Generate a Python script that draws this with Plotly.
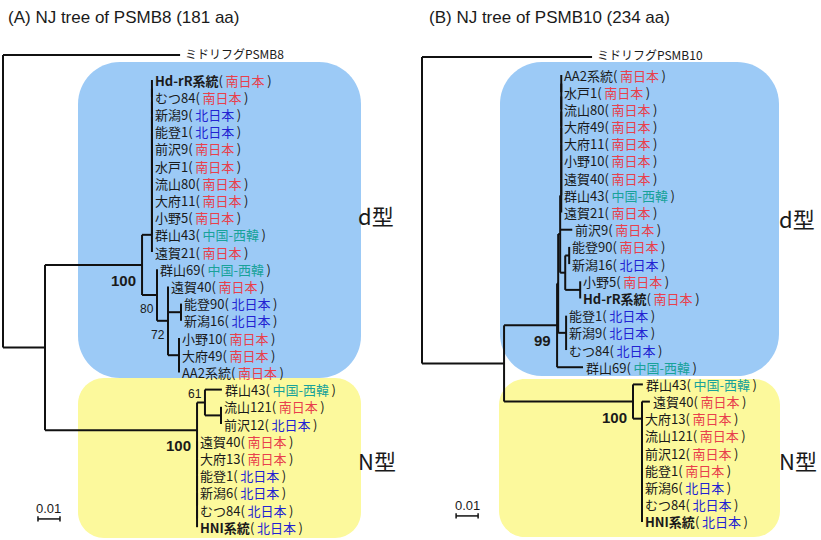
import plotly.graph_objects as go

W, H = 821, 540

# ------------------------------------------------------------------ data
A_TITLE = "(A) NJ tree of PSMB8 (181 aa)"
B_TITLE = "(B) NJ tree of PSMB10 (234 aa)"
A_OUTGROUP = "ミドリフグPSMB8"
B_OUTGROUP = "ミドリフグPSMB10"

A_d_names = ["Hd-rR系統", "むつ84", "新潟9", "能登1", "前沢9", "水戸1", "流山80", "大府11", "小野5",
             "群山43", "遠賀21", "群山69", "遠賀40", "能登90", "新潟16", "小野10", "大府49", "AA2系統"]
A_d_regions = ["南日本", "南日本", "北日本", "北日本", "南日本", "南日本", "南日本", "南日本", "南日本",
               "中国-西韓", "南日本", "中国-西韓", "南日本", "北日本", "北日本", "南日本", "南日本", "南日本"]
A_N_names = ["群山43", "流山121", "前沢12", "遠賀40", "大府13", "能登1", "新潟6", "むつ84", "HNI系統"]
A_N_regions = ["中国-西韓", "南日本", "北日本", "南日本", "南日本", "北日本", "北日本", "北日本", "北日本"]

B_d_names = ["AA2系統", "水戸1", "流山80", "大府49", "大府11", "小野10", "遠賀40", "群山43", "遠賀21",
             "前沢9", "能登90", "新潟16", "小野5", "Hd-rR系統", "能登1", "新潟9", "むつ84", "群山69"]
B_d_regions = ["南日本", "南日本", "南日本", "南日本", "南日本", "南日本", "南日本", "中国-西韓", "南日本",
               "南日本", "南日本", "北日本", "南日本", "南日本", "北日本", "北日本", "北日本", "中国-西韓"]
B_N_names = ["群山43", "遠賀40", "大府13", "流山121", "前沢12", "能登1", "新潟6", "むつ84", "HNI系統"]
B_N_regions = ["中国-西韓", "南日本", "南日本", "南日本", "南日本", "南日本", "北日本", "北日本", "北日本"]

BOLD_NAMES = ["Hd-rR系統", "HNI系統"]

# branch lengths (substitutions / site)
A_len = {"outgroup": 0.0805, "ingroup": 0.0191, "d": 0.0441, "d_upper": 0.0045,
         "n80": 0.0068, "n72": 0.0050, "noto90": 0.0059, "ono10": 0.0050,
         "N": 0.0691, "n61": 0.0036, "gunzan43": 0.0077, "nagareyama": 0.0073}
B_len = {"outgroup": 0.0773, "ingroup": 0.0373, "d": 0.0241, "x": 0.0005, "x2": 0.0009,
         "d_upper": 0.0005, "maezawa9": 0.0055, "w": 0.0023, "noto90": 0.0018,
         "ono5": 0.0068, "v": 0.0036, "gunzan69": 0.0118,
         "N": 0.0586, "gunzan43": 0.0045, "m": 0.0041, "onga40": 0.0036}
A_bootstrap = {"d": 100, "n80": 80, "n72": 72, "N": 100, "n61": 61}
B_bootstrap = {"d": 99, "N": 100}

SCALE_LEN = 0.01
SCALE_LABEL = "0.01"
TYPE_LABELS = ["d型", "N型"]

REGION_COLORS = {"南日本": "#e8404c", "北日本": "#2323d2", "中国-西韓": "#19a29a"}

# ------------------------------------------------------------------ tree helpers
def leaf(name, region, length=0.0, y=None):
    d = {"len": length, "name": name, "region": region}
    if y is not None:
        d["y"] = y
    return d


def node(length, children, bs=None, bs_pos="below"):
    return {"len": length, "children": children, "bs": bs, "bs_pos": bs_pos}


def ladder(leaves, length):
    cur = leaves[0]
    for lf in leaves[1:]:
        cur = node(0.0, [cur, lf])
    cur["len"] = length
    return cur


def rladder(leaves, length):
    cur = leaves[-1]
    for lf in reversed(leaves[:-1]):
        cur = node(0.0, [lf, cur])
    cur["len"] = length
    return cur


def layout(t, xp, counter, segx, segy, leaves, bss):
    x = xp + t["len"]
    if "children" not in t:
        if "y" in t:
            y = t["y"]
        else:
            y = counter[0]
            counter[0] += 1
        leaves.append((x, y, t))
        return x, y
    pts = [layout(c, x, counter, segx, segy, leaves, bss) for c in t["children"]]
    y = (pts[0][1] + pts[-1][1]) / 2.0
    segx += [x, x, None]
    segy += [pts[0][1], pts[-1][1], None]
    for cx, cy in pts:
        if cx > x:
            segx += [x, cx, None]
            segy += [cy, cy, None]
    if t.get("bs") is not None:
        bss.append((x, y, t["bs"], t["bs_pos"]))
    return x, y


# ------------------------------------------------------------------ build trees
Ad = [leaf(n, r) for n, r in zip(A_d_names, A_d_regions)]
AN = [leaf(n, r) for n, r in zip(A_N_names, A_N_regions)]
AN[0]["len"] = A_len["gunzan43"]
tree_A = node(0.0, [
    leaf(A_OUTGROUP, None, A_len["outgroup"], y=-1.45),
    node(A_len["ingroup"], [
        node(A_len["d"], [
            ladder(Ad[0:11], A_len["d_upper"]),
            node(A_len["n80"], [
                Ad[11],
                node(A_len["n72"], [
                    Ad[12],
                    node(A_len["noto90"], Ad[13:15]),
                    node(A_len["ono10"], Ad[15:18]),
                ], bs=A_bootstrap["n72"]),
            ], bs=A_bootstrap["n80"]),
        ], bs=A_bootstrap["d"]),
        node(A_len["N"], [
            node(A_len["n61"], [AN[0], node(A_len["nagareyama"], AN[1:3])],
                 bs=A_bootstrap["n61"], bs_pos="above"),
            rladder(AN[3:9], 0.0),
        ], bs=A_bootstrap["N"]),
    ]),
])

Bd = [leaf(n, r) for n, r in zip(B_d_names, B_d_regions)]
BN = [leaf(n, r) for n, r in zip(B_N_names, B_N_regions)]
Bd[9]["len"] = B_len["maezawa9"]
Bd[17]["len"] = B_len["gunzan69"]
BN[0]["len"] = B_len["gunzan43"]
BN[1]["len"] = B_len["onga40"]
tree_B = node(0.0, [
    leaf(B_OUTGROUP, None, B_len["outgroup"], y=-1.05),
    node(B_len["ingroup"], [
        node(B_len["d"], [
            node(B_len["x"], [
                node(B_len["x2"], [
                    ladder(Bd[0:9], B_len["d_upper"]),
                    Bd[9],
                    node(B_len["w"], [
                        node(B_len["noto90"], Bd[10:12]),
                        node(B_len["ono5"], Bd[12:14]),
                    ]),
                ]),
                node(B_len["v"], Bd[14:17]),
            ]),
            Bd[17],
        ], bs=B_bootstrap["d"]),
        node(B_len["N"], [
            BN[0],
            rladder(BN[1:9], B_len["m"]),
        ], bs=B_bootstrap["N"]),
    ]),
])

# ------------------------------------------------------------------ figure
CJK = "Noto Sans CJK JP"
LAT = "Liberation Sans, Arial, sans-serif"
fig = go.Figure()
annotations = []
shapes = []


def px2paper(x, y):
    return x / W, 1 - y / H


def rrect(x0, y0, x1, y1, r, color):
    k = 0.5523 * r

    def P(x, y):
        a, b = px2paper(x, y)
        return f"{a:.5f},{b:.5f}"
    path = (f"M {P(x0 + r, y0)} L {P(x1 - r, y0)} "
            f"C {P(x1 - r + k, y0)} {P(x1, y0 + r - k)} {P(x1, y0 + r)} "
            f"L {P(x1, y1 - r)} C {P(x1, y1 - r + k)} {P(x1 - r + k, y1)} {P(x1 - r, y1)} "
            f"L {P(x0 + r, y1)} C {P(x0 + r - k, y1)} {P(x0, y1 - r + k)} {P(x0, y1 - r)} "
            f"L {P(x0, y0 + r)} C {P(x0, y0 + r - k)} {P(x0 + r - k, y0)} {P(x0 + r, y0)} Z")
    return dict(type="path", path=path, xref="paper", yref="paper", fillcolor=color,
                line=dict(width=0), layer="below")


BLUE = "#9ccaf6"
YELLOW = "#fcf99c"
shapes += [rrect(78, 62, 361, 378, 42, BLUE), rrect(78, 378, 361, 538, 26, YELLOW),
           rrect(500, 62, 779, 376, 42, BLUE), rrect(499, 379, 780, 537, 26, YELLOW)]


def label_html(t):
    name = t["name"]
    if name in BOLD_NAMES:
        name = f"<b>{name}</b>"
    if t["region"] is None:
        return name
    c = REGION_COLORS[t["region"]]
    return f"{name}(\u2009<span style='color:{c}'>{t['region']}</span>\u2009)"


def draw_tree(tree, xa, ya):
    segx, segy, leaves, bss = [], [], [], []
    layout(tree, 0.0, [0], segx, segy, leaves, bss)
    fig.add_trace(go.Scatter(x=segx, y=segy, mode="lines", xaxis=xa, yaxis=ya,
                             line=dict(color="#111111", width=2), hoverinfo="skip",
                             showlegend=False))
    for lx, ly, t in leaves:
        out = t["region"] is None
        annotations.append(dict(
            x=lx, y=ly, xref=xa, yref=ya, text=label_html(t), showarrow=False,
            xanchor="left", yanchor="middle", xshift=3 if out else 1, yshift=2 if out else 0,
            font=dict(family=CJK, size=12 if out else 13, color="#1a1a1a")))
    for bx, by, val, pos in bss:
        big = val >= 99
        annotations.append(dict(
            x=bx, y=by, xref=xa, yref=ya, text=f"<b>{val}</b>" if big else str(val),
            showarrow=False, xanchor="right",
            yanchor="top" if pos == "below" else "bottom",
            xshift=-4 if big else -1, yshift=-5 if pos == "below" else 0,
            font=dict(family=LAT, size=15 if big else 12, color="#1a1a1a")))


draw_tree(tree_A, "x", "y")
draw_tree(tree_B, "x2", "y2")


def scale_bar(xa, ya, sx, sy):
    fig.add_trace(go.Scatter(
        x=[sx, sx + SCALE_LEN, None, sx, sx, None, sx + SCALE_LEN, sx + SCALE_LEN],
        y=[sy, sy, None, sy - 0.15, sy + 0.15, None, sy - 0.15, sy + 0.15],
        mode="lines", xaxis=xa, yaxis=ya, line=dict(color="#111111", width=1.5),
        hoverinfo="skip", showlegend=False))
    annotations.append(dict(x=sx + SCALE_LEN / 2, y=sy, xref=xa, yref=ya, text=SCALE_LABEL,
                            showarrow=False, xanchor="center", yanchor="bottom", yshift=1,
                            font=dict(family=LAT, size=13, color="#1a1a1a")))


scale_bar("x", "y", 0.0159, 25.52)
scale_bar("x2", "y2", 0.0155, 25.65)


def paper_text(x, y, text, size, family, anchor="left"):
    px, py = px2paper(x, y)
    annotations.append(dict(x=px, y=py, xref="paper", yref="paper", text=text, showarrow=False,
                            xanchor=anchor, yanchor="middle",
                            font=dict(family=family, size=size, color="#1a1a1a")))


paper_text(6, 18, A_TITLE, 17, LAT)
paper_text(427, 18, B_TITLE, 17, LAT)
paper_text(356, 215, TYPE_LABELS[0], 22, CJK)
paper_text(356, 460, TYPE_LABELS[1], 22, CJK)
paper_text(777, 218, TYPE_LABELS[0], 22, CJK)
paper_text(777, 460, TYPE_LABELS[1], 22, CJK)

PXU = 2200.0   # pixels per distance unit
fig.update_layout(
    width=W, height=H, margin=dict(l=0, r=0, t=0, b=0),
    paper_bgcolor="white", plot_bgcolor="rgba(0,0,0,0)", showlegend=False,
    xaxis=dict(domain=[0, 410 / W], range=[-3 / PXU, 407 / PXU], visible=False, anchor="y"),
    yaxis=dict(domain=[0, 1], range=[(H - 80) / 17.2, -80 / 17.2], visible=False, anchor="x"),
    xaxis2=dict(domain=[410 / W, 1], range=[-12 / PXU, 399 / PXU], visible=False, anchor="y2"),
    yaxis2=dict(domain=[0, 1], range=[(H - 75) / 17.19, -75 / 17.19], visible=False, anchor="x2"),
    shapes=shapes, annotations=annotations,
)
fig.write_html("out.html", config={"displayModeBar": False},
               post_script="document.body.style.margin='0';document.body.style.overflow='hidden';")
